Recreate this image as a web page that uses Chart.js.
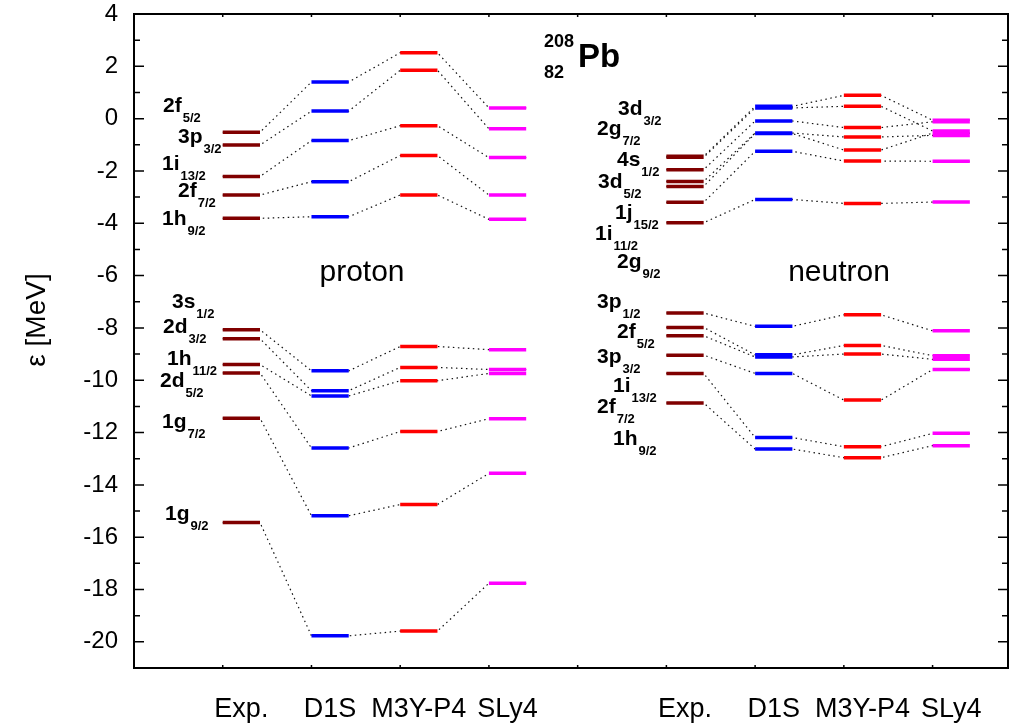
<!DOCTYPE html>
<html>
<head>
<meta charset="utf-8">
<script src="https://cdn.jsdelivr.net/npm/chart.js@4/dist/chart.umd.min.js"></script>
<style>
  html, body { margin: 0; padding: 0; background: #fff; }
  canvas { display: block; }
</style>
</head>
<body>
<canvas id="levels" width="1015" height="724"></canvas>
<script>
// single-particle levels of 208Pb, energies in MeV
const models = ['Exp.', 'D1S', 'M3Y-P4', 'SLy4'];
const yTicks = [-20, -18, -16, -14, -12, -10, -8, -6, -4, -2, 0, 2, 4];

const protonStates = ['2f5/2', '3p3/2', '1i13/2', '2f7/2', '1h9/2', '3s1/2', '2d3/2', '1h11/2', '2d5/2', '1g7/2', '1g9/2'];
const protonExp  = [-0.52, -1.01, -2.21, -2.92, -3.81, -8.07, -8.41, -9.40, -9.72, -11.45, -15.44];
const protonD1S  = [1.40, 0.29, -0.84, -2.41, -3.75, -9.64, -10.40, -10.60, -12.59, -15.18, -19.77];
const protonM3Y  = [2.52, 1.85, -0.27, -1.41, -2.92, -8.71, -9.51, -10.02, -11.96, -14.75, -19.59];
const protonSLy4 = [0.41, -0.39, -1.49, -2.92, -3.85, -8.83, -9.59, -9.74, -11.47, -13.56, -17.76];

const neutronStates = ['3d3/2', '2g7/2', '4s1/2', '3d5/2', '1j15/2', '1i11/2', '2g9/2', '3p1/2', '2f5/2', '3p3/2', '1i13/2', '2f7/2', '1h9/2'];
const neutronExp  = [-1.44, -1.48, -1.95, -2.40, -2.59, -3.20, -3.98, -7.43, -7.98, -8.30, -9.04, -9.74, -10.87];
const neutronD1S  = [0.47, 0.41, -0.09, -0.55, -0.57, -1.25, -3.09, -7.94, -9.03, -9.11, -9.74, -12.19, -12.63];
const neutronM3Y  = [0.89, 0.47, -0.34, -0.70, -1.20, -1.62, -3.24, -7.50, -8.67, -9.00, -10.76, -12.54, -12.96];
const neutronSLy4 = [-0.06, -0.47, -0.12, -0.64, -0.55, -1.63, -3.19, -8.11, -9.06, -9.20, -9.59, -12.03, -12.50];

// layout / style
const FONT = '"Liberation Sans", Arial, Helvetica, sans-serif';
const colors = ['#800000', '#0000ff', '#ff0000', '#ff00ff'];
const BAR = 0.42;          // bar length in x units
const protonBase = 1;      // x of the first model column
const neutronBase = 6;
// where the state names sit (left x, baseline y in px)
const protonLabelPos = [[163, 112], [178, 143], [162, 170], [178, 197], [162, 225],
                        [172, 308], [163, 333], [167, 365], [160, 387], [162, 428], [165, 520]];
const neutronLabelPos = [[618, 115], [597, 135], [617, 166], [598, 188], [615, 219], [595, 240], [617, 268],
                         [597, 308], [617, 338], [597, 363], [613, 392], [597, 413], [613, 445]];

const protonValues = [protonExp, protonD1S, protonM3Y, protonSLy4];
const neutronValues = [neutronExp, neutronD1S, neutronM3Y, neutronSLy4];

const datasets = [];
function addSide(values, base) {
    // dotted connectors, one per state
    values[0].forEach((_, i) => {
        const pts = [];
        values.forEach((arr, m) => {
            pts.push({ x: base + m, y: arr[i] }, { x: base + m + BAR, y: arr[i] });
        });
        datasets.push({
            data: pts, borderColor: '#111', borderWidth: 1.2, borderDash: [1.5, 3.5],
            pointRadius: 0, showLine: true, order: 2
        });
    });
    // coloured level bars, one dataset per model
    values.forEach((arr, m) => {
        const pts = [];
        arr.forEach(v => {
            pts.push({ x: base + m, y: v }, { x: base + m + BAR, y: v }, { x: base + m + BAR, y: null });
        });
        datasets.push({
            data: pts, borderColor: colors[m], borderWidth: 3.5, borderCapStyle: 'butt',
            pointRadius: 0, showLine: true, spanGaps: false, order: 1
        });
    });
}
addSide(protonValues, protonBase);
addSide(neutronValues, neutronBase);

function drawState(ctx, name, x, y) {
    const main = name.slice(0, 2), sub = name.slice(2);
    ctx.font = 'bold 21px ' + FONT;
    ctx.fillText(main, x, y);
    const w = ctx.measureText(main).width;
    ctx.font = 'bold 13px ' + FONT;
    ctx.fillText(sub, x + w + 1, y + 10);
}

const decorations = {
    id: 'decorations',
    afterDraw(chart) {
        const { ctx, chartArea: a, scales: { x, y } } = chart;
        ctx.save();
        ctx.strokeStyle = '#000';
        ctx.lineWidth = 2;
        ctx.strokeRect(a.left, a.top, a.right - a.left, a.bottom - a.top);

        ctx.lineWidth = 1.5;
        ctx.beginPath();
        for (let v = Math.ceil(y.min); v <= y.max; v++) {
            const py = y.getPixelForValue(v);
            const len = v % 2 === 0 ? 10 : 6;
            ctx.moveTo(a.left, py); ctx.lineTo(a.left + len, py);
            ctx.moveTo(a.right, py); ctx.lineTo(a.right - len, py);
        }
        for (let t = 1; t <= 9; t++) {
            const px = x.getPixelForValue(t);
            ctx.moveTo(px, a.top); ctx.lineTo(px, a.top + 3);
            ctx.moveTo(px, a.bottom); ctx.lineTo(px, a.bottom - 3);
        }
        ctx.stroke();

        ctx.fillStyle = '#000';
        ctx.textAlign = 'left';
        ctx.textBaseline = 'alphabetic';
        protonStates.forEach((s, i) => drawState(ctx, s, protonLabelPos[i][0], protonLabelPos[i][1]));
        neutronStates.forEach((s, i) => drawState(ctx, s, neutronLabelPos[i][0], neutronLabelPos[i][1]));

        // nucleus
        ctx.font = 'bold 18px ' + FONT;
        ctx.fillText('208', 544, 47);
        ctx.fillText('82', 544, 78);
        ctx.font = 'bold 33px ' + FONT;
        ctx.fillText('Pb', 578, 67);

        ctx.textAlign = 'center';
        ctx.font = '30px ' + FONT;
        ctx.fillText('proton', 362, 281);
        ctx.fillText('neutron', 839, 281);

        // column names
        ctx.font = '27px ' + FONT;
        models.forEach((mName, m) => {
            ctx.fillText(mName, x.getPixelForValue(protonBase + m + BAR / 2), 717);
            ctx.fillText(mName, x.getPixelForValue(neutronBase + m + BAR / 2), 717);
        });

        // y title
        ctx.translate(37, 320);
        ctx.rotate(-Math.PI / 2);
        ctx.textBaseline = 'middle';
        ctx.font = '28px ' + FONT;
        ctx.fillText('\u03b5 [MeV]', 0, 0);
        ctx.restore();
    }
};

new Chart(document.getElementById('levels'), {
    type: 'scatter',
    data: { datasets },
    options: {
        responsive: false,
        animation: false,
        layout: { padding: { top: 14, right: 7, bottom: 56, left: 0 } },
        plugins: { legend: { display: false }, tooltip: { enabled: false } },
        scales: {
            x: { type: 'linear', min: 0, max: 9.85, display: false },
            y: {
                type: 'linear', min: -21, max: 4,
                afterBuildTicks: s => { s.ticks = yTicks.map(v => ({ value: v })); },
                afterFit: s => {
                    s.width = 134;
                    s.paddingTop = 0;
                    s.paddingBottom = 0;
                },
                grid: { display: false, drawTicks: false },
                border: { display: false },
                ticks: { font: { size: 24, family: FONT }, color: '#000', padding: 16 }
            }
        }
    },
    plugins: [decorations]
});
</script>
</body>
</html>
